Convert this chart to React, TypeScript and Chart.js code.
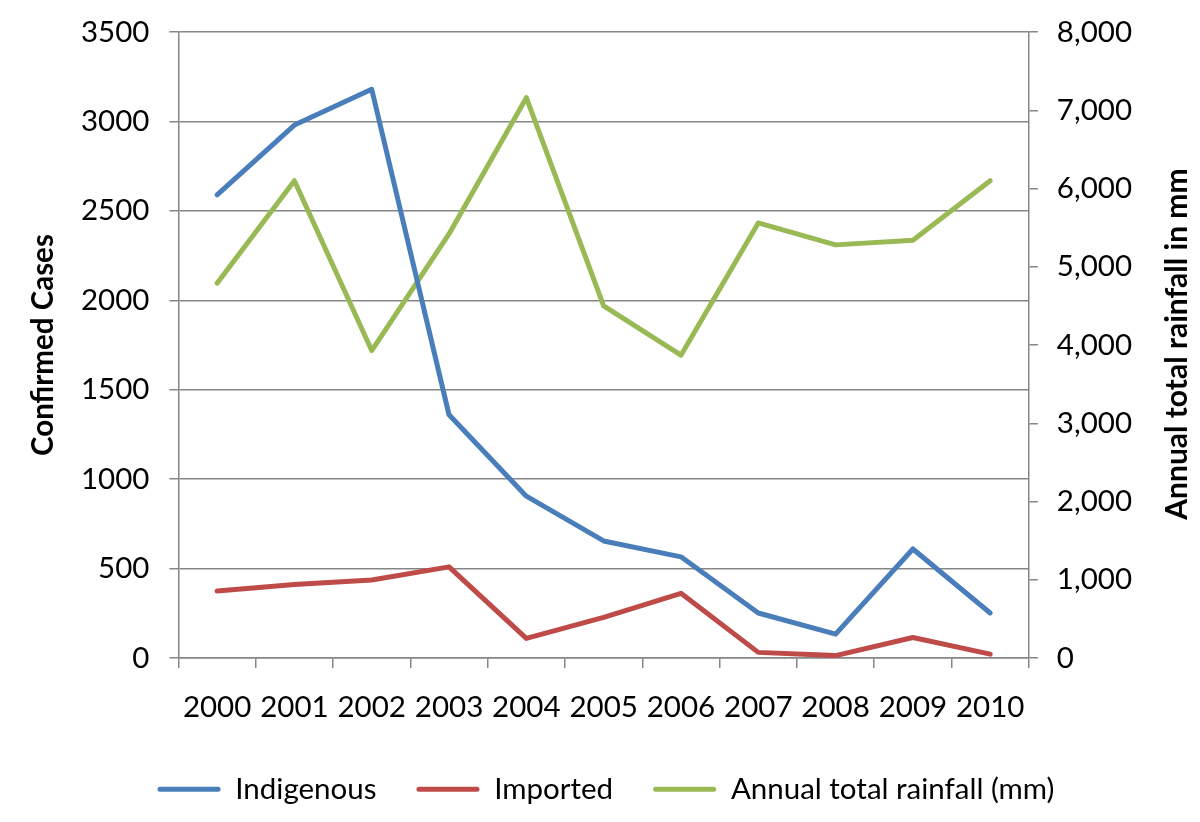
import React, { useEffect, useRef } from "react";
import { Chart, registerables } from "chart.js";

Chart.register(...registerables);

const years = ["2000", "2001", "2002", "2003", "2004", "2005", "2006", "2007", "2008", "2009", "2010"];
const indigenous = [2590, 2980, 3180, 1360, 905, 655, 566, 252, 134, 610, 252];
const imported = [375, 412, 437, 510, 110, 228, 362, 32, 14, 115, 22];
const rainfall = [4790, 6100, 3930, 5420, 7160, 4500, 3870, 5560, 5280, 5340, 6100];

const leftTitle = "Confirmed Cases";
const rightTitle = "Annual total rainfall in mm";

const FONT = "Lato, 'Open Sans', sans-serif";
const GRID = "#868686";
const TICK_SIZE = 29.5;

const titlePlugin = {
  id: "axisTitles",
  afterDraw(chart: any) {
    const { ctx, chartArea } = chart;
    const cy = (chartArea.top + chartArea.bottom) / 2;
    ctx.save();
    ctx.fillStyle = "#000";
    ctx.font = `bold 29.5px ${FONT}`;
    ctx.textAlign = "center";
    ctx.textBaseline = "middle";
    ctx.translate(43, cy);
    ctx.rotate(-Math.PI / 2);
    ctx.fillText(leftTitle, 0, 0);
    ctx.restore();
    ctx.save();
    ctx.fillStyle = "#000";
    ctx.font = `bold 30px ${FONT}`;
    ctx.textAlign = "center";
    ctx.textBaseline = "middle";
    ctx.translate(1177, cy - 1);
    ctx.rotate(-Math.PI / 2);
    ctx.fillText(rightTitle, 0, 0);
    ctx.restore();
  },
};

const noVPad = (s: any) => {
  s.paddingTop = 0;
  s.paddingBottom = 0;
};

export default function App() {
  const ref = useRef<HTMLCanvasElement | null>(null);
  useEffect(() => {
    if (!ref.current) return;
    const common = {
      borderWidth: 5,
      pointRadius: 0,
      tension: 0,
      borderJoinStyle: "round",
      borderCapStyle: "round",
    };
    const chart = new Chart(ref.current, {
      type: "line",
      data: {
        labels: years,
        datasets: [
          {
            ...common,
            label: "Indigenous",
            data: indigenous,
            borderColor: "#4a7ebb",
            backgroundColor: "#4a7ebb",
            yAxisID: "y",
          },
          {
            ...common,
            label: "Imported",
            data: imported,
            borderColor: "#be4b48",
            backgroundColor: "#be4b48",
            yAxisID: "y",
          },
          {
            ...common,
            label: "Annual total rainfall (mm)",
            data: rainfall,
            borderColor: "#98b954",
            backgroundColor: "#98b954",
            yAxisID: "y1",
          },
        ],
      } as any,
      options: {
        animation: false,
        responsive: false,
        maintainAspectRatio: false,
        layout: { padding: { left: 61, right: 49, top: 32, bottom: 8 } },
        plugins: {
          tooltip: { enabled: false },
          legend: {
            position: "bottom",
            labels: {
              color: "#000",
              font: { family: FONT, size: TICK_SIZE },
              boxWidth: 63,
              boxHeight: 5,
              padding: 40,
              generateLabels: (c: any) =>
                c.data.datasets.map((ds: any, i: number) => ({
                  text: ds.label,
                  fillStyle: ds.borderColor,
                  strokeStyle: ds.borderColor,
                  lineWidth: 0,
                  hidden: false,
                  datasetIndex: i,
                  fontColor: "#000",
                  borderRadius: 2.5,
                })),
            },
          },
        },
        scales: {
          x: {
            offset: true,
            afterFit: (s: any) => {
              s.height -= 13;
            },
            grid: {
              offset: true,
              drawOnChartArea: false,
              drawTicks: true,
              tickLength: 10,
              color: GRID,
              lineWidth: 1.5,
            },
            border: { display: true, color: GRID, width: 1.5 },
            ticks: {
              color: "#000",
              font: { family: FONT, size: TICK_SIZE },
              padding: 22,
              maxRotation: 0,
              autoSkip: false,
            },
          },
          y: {
            position: "left",
            min: 0,
            max: 3500,
            afterFit: noVPad,
            ticks: {
              stepSize: 500,
              color: "#000",
              font: { family: FONT, size: TICK_SIZE },
              padding: 20,
              callback: (v: any) => String(v),
            },
            grid: {
              color: GRID,
              lineWidth: 1.5,
              tickLength: 9,
              drawTicks: true,
            },
            border: { display: true, color: GRID, width: 1.5 },
          },
          y1: {
            position: "right",
            min: 0,
            max: 8000,
            afterFit: noVPad,
            ticks: {
              stepSize: 1000,
              color: "#000",
              font: { family: FONT, size: TICK_SIZE },
              padding: 19,
              callback: (v: any) => Number(v).toLocaleString("en-US"),
            },
            grid: {
              drawOnChartArea: false,
              color: GRID,
              lineWidth: 1.5,
              tickLength: 9,
              drawTicks: true,
            },
            border: { display: true, color: GRID, width: 1.5 },
          },
        },
      } as any,
      plugins: [titlePlugin],
    });
    return () => chart.destroy();
  }, []);
  return (
    <div style={{ position: "fixed", left: 0, top: 0, width: 1200, height: 822, background: "#fff" }}>
      <canvas ref={ref} width={1200} height={822} style={{ width: 1200, height: 822, display: "block" }} />
    </div>
  );
}
